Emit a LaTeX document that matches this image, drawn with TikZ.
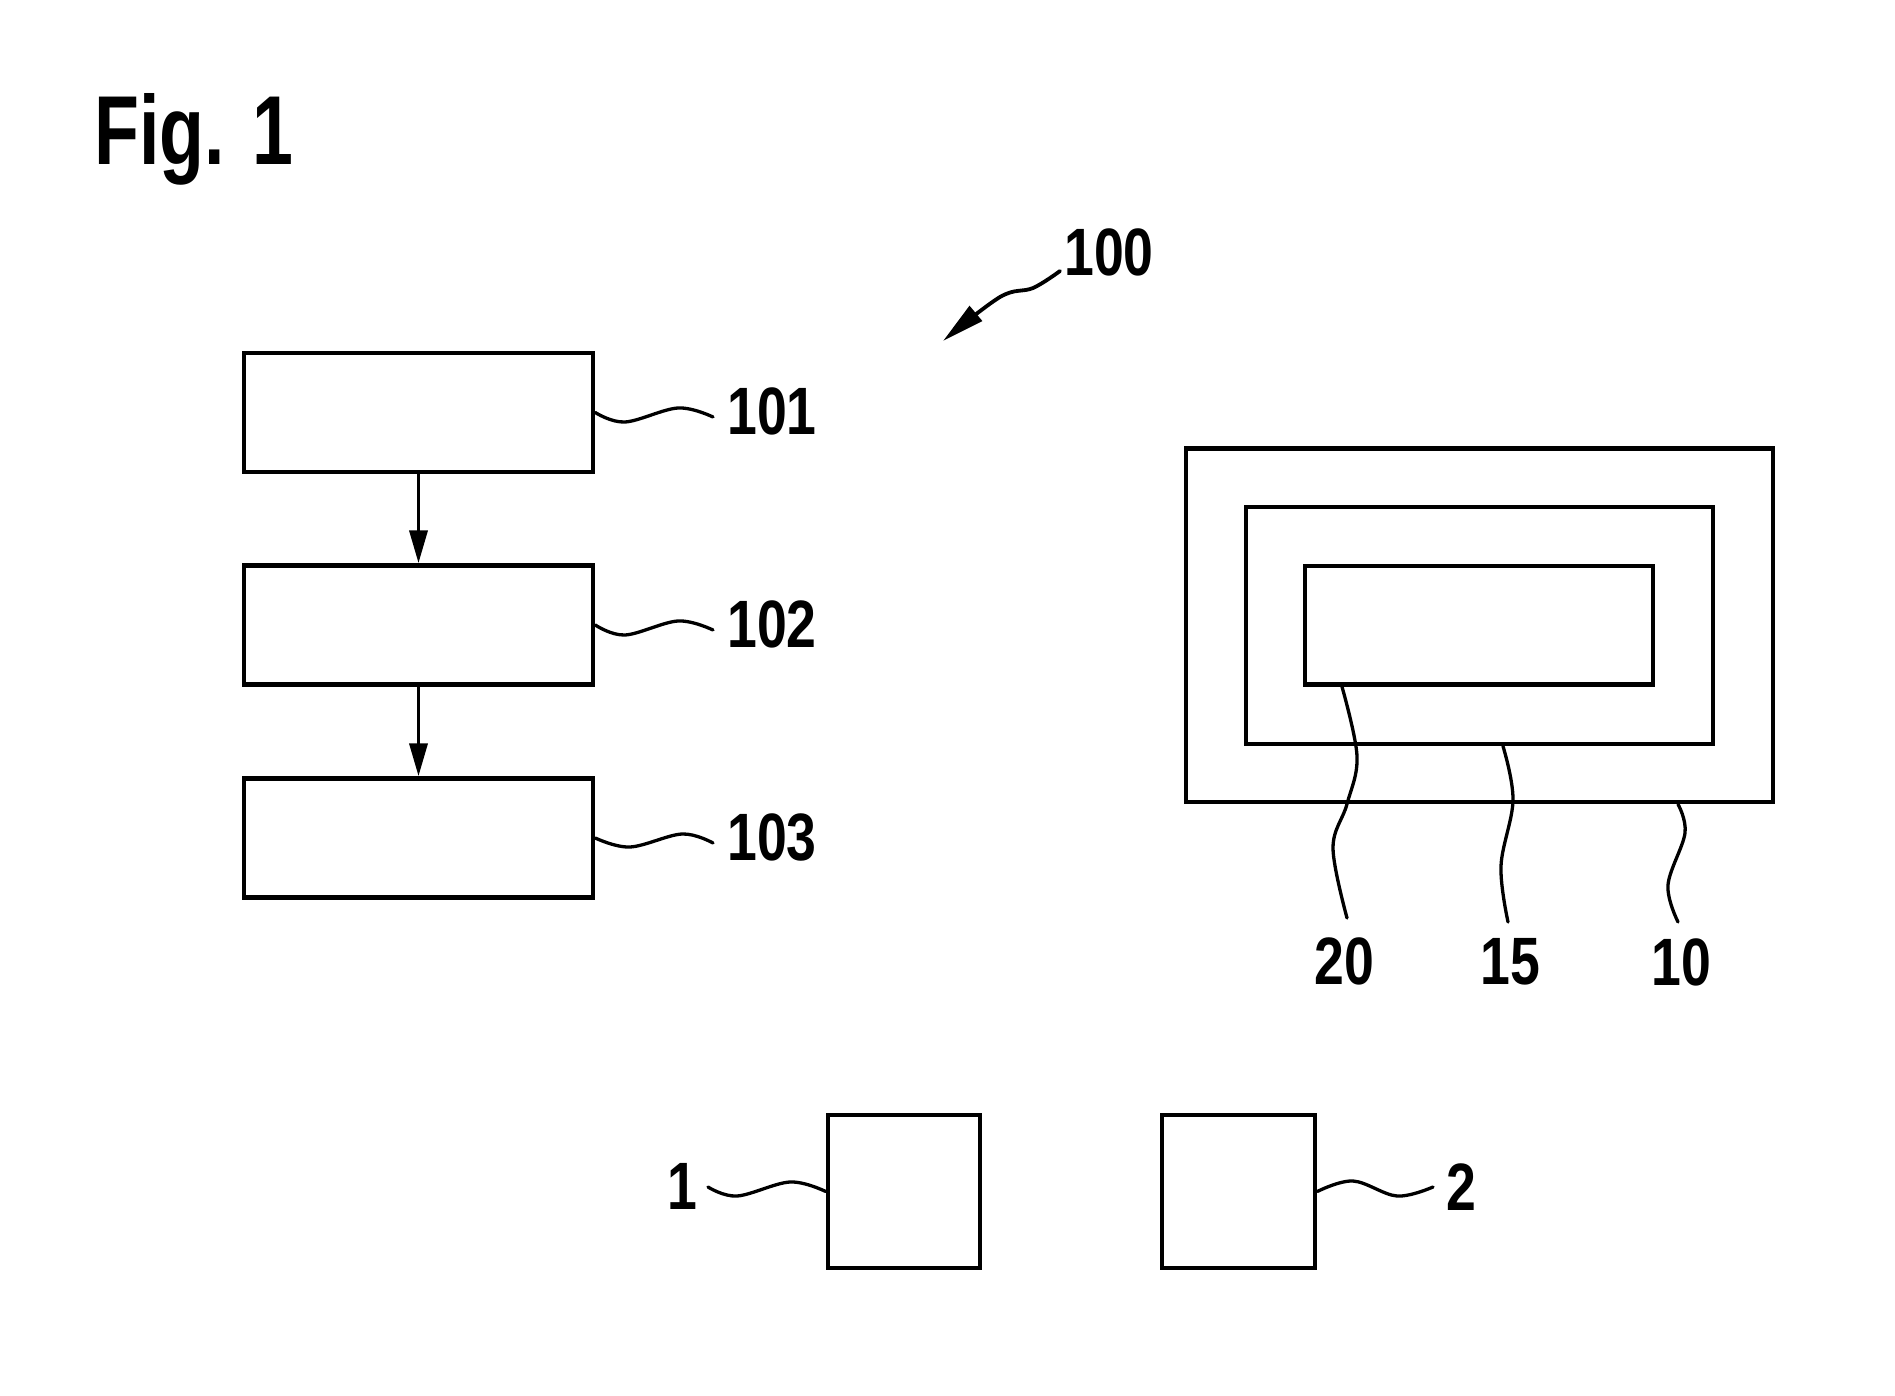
\documentclass[tikz,border=0pt]{standalone}
\usepackage{fontspec}
\setmainfont{Liberation Sans}[FakeStretch=0.8]
\newfontfamily\figfont{Liberation Sans}[FakeStretch=0.75]
\usetikzlibrary{arrows.meta,calc}
\begin{document}
\begin{tikzpicture}[x=1pt,y=-1pt,
  blk/.style={draw,rectangle,line width=4.5pt,inner sep=0pt},
  numlab/.style={inner sep=0pt,font=\fontsize{67}{70}\selectfont\bfseries},
  leadline/.style={line width=3.3pt,line cap=round},
  flowarr/.style={line width=3.8pt,-{Triangle[length=33pt,width=18pt]}},
  refarr/.style={line width=3.8pt,line cap=round,-{Triangle[length=43pt,width=19pt]}}]
\fill[white] (0,0) rectangle (1895,1396);
\useasboundingbox (0,0) rectangle (1895,1396);

% title
\node[anchor=base,inner sep=0pt,font=\figfont\fontsize{98}{110}\selectfont\bfseries] (fig) at (194,165) {Fig. 1};

% reference 100
\node[numlab] (l100) at (1109,252) {100};
\coordinate (a100s) at (1060,271);
\coordinate (a100t) at (943,341);
\draw[refarr] plot[smooth,tension=0.6] coordinates {(a100s) (1033,288) (1000,297) (a100t)};

% flow chart boxes
\node[blk,minimum width=349pt,minimum height=119pt] (b101) at (418.5,412.5) {};
\node[blk,minimum width=349pt,minimum height=119pt] (b102) at (418.5,625) {};
\node[blk,minimum width=349pt,minimum height=119pt] (b103) at (418.5,838) {};
\draw[flowarr] (b101.south) -- (b102.north);
\draw[flowarr] (b102.south) -- (b103.north);

\node[numlab] (l101) at (772,411) {101};
\node[numlab] (l102) at (772,624) {102};
\node[numlab] (l103) at (772,837) {103};
\coordinate (e101) at (713,417);
\coordinate (e102) at (713,630);
\coordinate (e103) at (713,843);
\draw[leadline] plot[smooth,tension=0.6] coordinates {(b101.east) (625,422) (678,408) (e101)};
\draw[leadline] plot[smooth,tension=0.6] coordinates {(b102.east) (625,635) (678,621) (e102)};
\draw[leadline] plot[smooth,tension=0.6] coordinates {(b103.east) (630,847) (682,834) (e103)};

% nested rectangles
\node[blk,minimum width=587pt,minimum height=353.5pt] (r10) at (1479.5,625.25) {};
\node[blk,minimum width=467pt,minimum height=237pt] (r15) at (1479.5,625.5) {};
\node[blk,minimum width=348pt,minimum height=118.5pt] (r20) at (1479,625.25) {};

\node[numlab] (l20) at (1344.5,961) {20};
\node[numlab] (l15) at (1510,962) {15};
\node[numlab] (l10) at (1681,962) {10};
\coordinate (s20) at ($(r20.south)+(-137,0)$);
\coordinate (s15) at ($(r15.south)+(23.5,0)$);
\coordinate (s10) at ($(r10.south)+(198.5,0)$);
\coordinate (e20) at (1347,918);
\coordinate (e15) at (1508,922);
\coordinate (e10) at (1678,922);
\draw[leadline] plot[smooth,tension=0.6] coordinates {(s20) (1357,756) (1347,804) (1333,848) (e20)};
\draw[leadline] plot[smooth,tension=0.6] coordinates {(s15) (1513,800) (1501,866) (e15)};
\draw[leadline] plot[smooth,tension=0.6] coordinates {(s10) (1685,833) (1668,885) (e10)};

% bottom boxes
\node[blk,minimum width=152pt,minimum height=153pt] (bx1) at (904,1191.5) {};
\node[blk,minimum width=153pt,minimum height=153pt] (bx2) at (1238.5,1191.5) {};
\node[numlab] (l1) at (682,1186.5) {1};
\node[numlab] (l2) at (1461.5,1187) {2};
\coordinate (e1) at (708,1187);
\coordinate (e2) at (1433,1187);
\draw[leadline] plot[smooth,tension=0.6] coordinates {(bx1.west) (790,1182) (737,1196) (e1)};
\draw[leadline] plot[smooth,tension=0.6] coordinates {(bx2.east) (1353,1181) (1397,1196) (e2)};
\end{tikzpicture}
\end{document}
